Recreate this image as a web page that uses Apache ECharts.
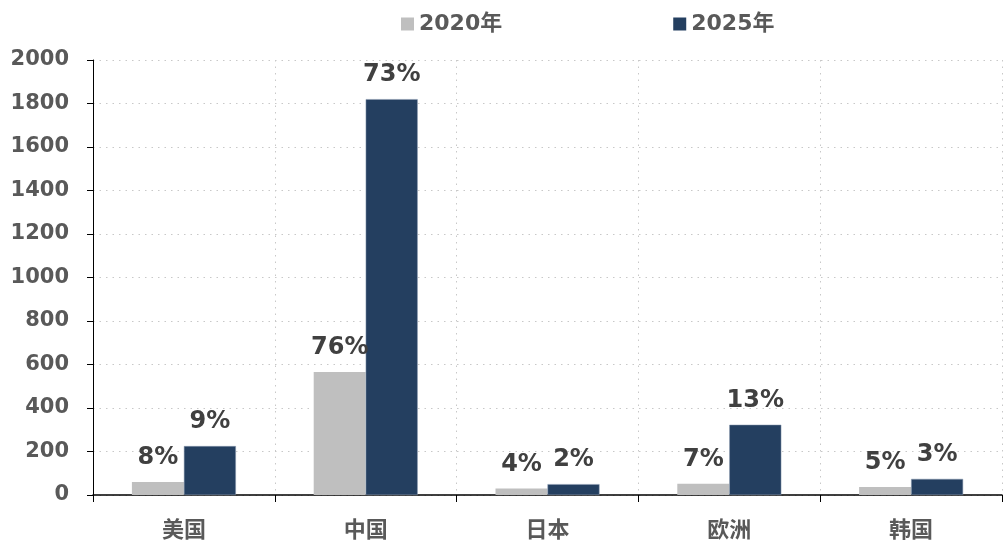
<!DOCTYPE html>
<html>
<head>
<meta charset="utf-8">
<script src="https://cdn.jsdelivr.net/npm/echarts@6/dist/echarts.min.js"></script>
<style>
  html, body { margin: 0; padding: 0; background: #fff; }
  #chart-container { width: 1004px; height: 544px; }
</style>
</head>
<body>
<div id="chart-container"></div>
<script>
var categories = ['美国', '中国', '日本', '欧洲', '韩国'];
var values2020 = [60, 565, 30, 52, 37];
var values2025 = [225, 1820, 50, 323, 74];
var share2020 = ['8%', '76%', '4%', '7%', '5%'];
var share2025 = ['9%', '73%', '2%', '13%', '3%'];
var yTicks = [0, 200, 400, 600, 800, 1000, 1200, 1400, 1600, 1800, 2000];

var dom = document.getElementById('chart-container');
var myChart = echarts.init(dom, null, { renderer: 'canvas' });

var font = 'DejaVu Sans, Verdana, Noto Sans CJK SC, sans-serif';

function barLabel(shares) {
  return {
    show: true,
    position: 'top',
    distance: 12,
    color: '#404040',
    fontFamily: font,
    fontWeight: 'bold',
    fontSize: 24,
    formatter: function (p) { return shares[p.dataIndex]; }
  };
}

var option = {
  animation: false,
  legend: {
    top: 8,
    left: 396,
    itemGap: 171,
    itemWidth: 13,
    itemHeight: 13,
    icon: 'rect',
    itemStyle: { borderWidth: 0 },
    textStyle: { color: '#595959', fontFamily: font, fontWeight: 'bold', fontSize: 22 },
    data: ['2020年', '2025年']
  },
  grid: { left: 93, right: 2, top: 60, bottom: 49 },
  xAxis: {
    type: 'category',
    data: categories,
    axisLine: { lineStyle: { color: '#000', width: 1.5 } },
    axisTick: { show: true, length: 7, lineStyle: { color: '#000' } },
    axisLabel: { color: '#595959', fontFamily: font, fontWeight: 'bold', fontSize: 22, margin: 25 },
    splitLine: { show: true, lineStyle: { color: '#c8c8c8', type: [1.5, 5] } }
  },
  yAxis: {
    type: 'value',
    min: yTicks[0],
    max: yTicks[yTicks.length - 1],
    interval: yTicks[1] - yTicks[0],
    axisLine: { show: true, lineStyle: { color: '#000', width: 1 } },
    axisTick: { show: true, length: 6, lineStyle: { color: '#000' } },
    axisLabel: {
      color: '#595959', fontFamily: font, fontWeight: 'bold', fontSize: 21, margin: 24,
      formatter: function (v) { return String(v); }
    },
    splitLine: { show: true, lineStyle: { color: '#c8c8c8', type: [1.5, 5] } }
  },
  series: [
    {
      name: '2020年',
      type: 'bar',
      data: values2020,
      barWidth: 52,
      barGap: '0%',
      itemStyle: { color: '#BFBFBF' },
      label: barLabel(share2020)
    },
    {
      name: '2025年',
      type: 'bar',
      data: values2025,
      barWidth: 52,
      itemStyle: { color: '#243F60', borderColor: '#8a9ab0', borderWidth: 0.5 },
      label: barLabel(share2025)
    }
  ]
};

myChart.setOption(option);
window.addEventListener('resize', myChart.resize);
</script>
</body>
</html>
